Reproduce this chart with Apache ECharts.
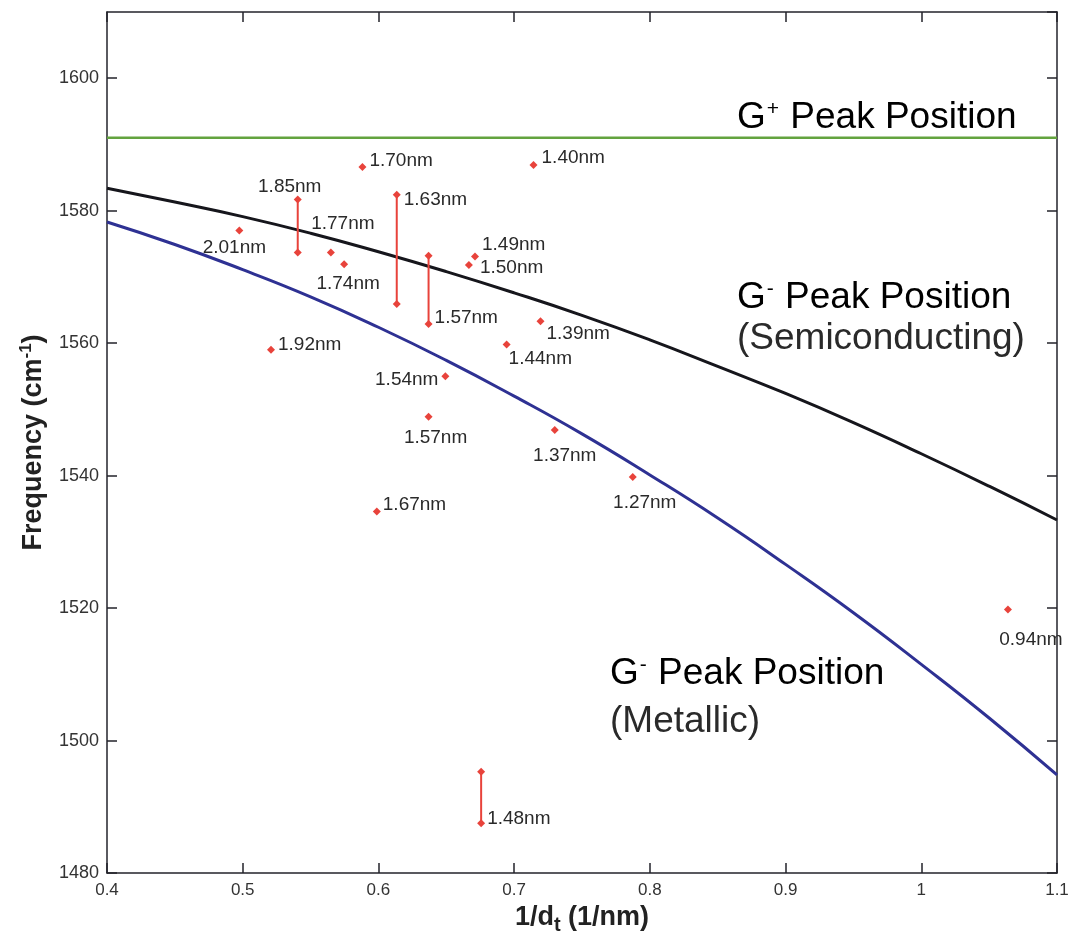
<!DOCTYPE html>
<html>
<head>
<meta charset="utf-8">
<title>G-band peak position vs inverse tube diameter</title>
<script src="https://cdn.jsdelivr.net/npm/echarts@6/dist/echarts.min.js"></script>
<style>
  html, body { margin: 0; padding: 0; background: #ffffff; }
  #chart { width: 1070px; height: 941px; }
</style>
</head>
<body>
<div id="chart"></div>
<script>
// ---- axis ticks ----
const xTicks = [0.4, 0.5, 0.6, 0.7, 0.8, 0.9, 1.0, 1.1];
const yTicks = [1480, 1500, 1520, 1540, 1560, 1580, 1600];
const yTop = 1610;

// ---- peak position curves, sampled along 1/d_t (1/nm) ----
const curveX = [0.40, 0.45, 0.50, 0.55, 0.60, 0.65, 0.70, 0.75, 0.80, 0.85, 0.90, 0.95, 1.00, 1.05, 1.10];
const semiconductingG = [1583.4, 1581.3, 1579.1, 1576.6, 1573.8, 1570.8, 1567.6, 1564.2, 1560.5, 1556.5, 1552.4, 1548.0, 1543.3, 1538.4, 1533.3];
const metallicG = [1578.3, 1574.9, 1571.1, 1567.0, 1562.4, 1557.4, 1552.0, 1546.3, 1540.1, 1533.6, 1526.6, 1519.3, 1511.5, 1503.4, 1494.8];
const gPlusX = [0.40, 1.10];
const gPlusG = [1591.0, 1591.0];

// ---- single measurements: tube diameter (nm) and G- frequency (cm-1) ----
const pointDiameter = [2.01, 1.77, 1.74, 1.70, 1.40, 1.49, 1.50, 1.39, 1.44, 1.92, 1.54, 1.57, 1.67, 1.37, 1.27, 0.94];
const pointG = [1577.0, 1573.7, 1571.9, 1586.6, 1586.9, 1573.1, 1571.8, 1563.3, 1559.8, 1559.0, 1555.0, 1548.9, 1534.6, 1546.9, 1539.8, 1519.8];

// ---- measured ranges: tube diameter (nm), upper and lower G- frequency ----
const rangeDiameter = [1.85, 1.63, 1.57, 1.48];
const rangeHigh = [1581.7, 1582.4, 1573.2, 1495.3];
const rangeLow = [1573.7, 1565.9, 1562.9, 1487.5];

// ---- label placement around each marker: [align, dx, dy] in pixels ----
const pointLabelPlace = [
  ['center', -5, 17], ['center', 12, -29], ['center', 4, 19], ['left', 7, -6],
  ['left', 8, -7], ['left', 7, -12], ['left', 11, 3], ['left', 6, 12],
  ['left', 2, 14], ['left', 7, -5], ['right', -7, 3], ['center', 7, 21],
  ['left', 6, -7], ['center', 10, 26], ['center', 12, 26], ['center', 23, 30]
];
// [end the label sits on, align, dx, dy]
const rangeLabelPlace = [
  ['high', 'center', -8, -13], ['high', 'left', 7, 5],
  ['low', 'left', 6, -6], ['low', 'left', 6, -5]
];

const RED = '#e8433b';
const FONT = 'Liberation Sans, Arial, sans-serif';
const AXIS_COLOR = '#23232b';
const TEXT_COLOR = '#2a2a2a';

const nmLabel = d => d.toFixed(2) + 'nm';

function labelStyle(place) {
  return {
    show: true,
    position: 'inside',
    align: place[0],
    verticalAlign: 'middle',
    offset: [place[1], place[2]],
    formatter: p => p.data.name,
    fontFamily: FONT,
    fontSize: 19,
    color: TEXT_COLOR,
    opacity: 1
  };
}

const pointSeries = {
  type: 'scatter',
  symbol: 'diamond',
  symbolSize: 8,
  itemStyle: { color: RED, opacity: 1 },
  z: 5,
  data: pointDiameter.map((d, i) => ({
    name: nmLabel(d),
    value: [1 / d, pointG[i]],
    label: labelStyle(pointLabelPlace[i])
  }))
};

const rangeSeries = rangeDiameter.map((d, i) => {
  const place = rangeLabelPlace[i];
  const ends = [
    { name: nmLabel(d), value: [1 / d, rangeHigh[i]] },
    { name: nmLabel(d), value: [1 / d, rangeLow[i]] }
  ];
  const withLabel = place[0] === 'high' ? 0 : 1;
  ends[withLabel].label = labelStyle(place.slice(1));
  return {
    type: 'line',
    symbol: 'diamond',
    symbolSize: 8,
    showSymbol: true,
    lineStyle: { color: RED, width: 2 },
    itemStyle: { color: RED },
    label: { show: false },
    z: 5,
    data: ends
  };
});

const curveLine = (xs, ys, color, width) => ({
  type: 'line',
  smooth: true,
  symbol: 'none',
  lineStyle: { color: color, width: width },
  z: 3,
  data: xs.map((x, i) => [x, ys[i]])
});

const tickStyle = { inside: true, length: 10, lineStyle: { color: AXIS_COLOR, width: 1.5 } };
const lineStyleAxis = { onZero: false, lineStyle: { color: AXIS_COLOR, width: 1.5 } };

const xRange = { min: xTicks[0], max: xTicks[xTicks.length - 1], interval: 0.1 };
const yRange = { min: yTicks[0], max: yTop, interval: 20 };

function annotation(x, y, sign, rest) {
  return {
    type: 'text', left: x, top: y, z: 10,
    style: {
      text: '{g|G}{s|' + sign + '}{g|' + rest + '}',
      rich: {
        g: { fontFamily: FONT, fontSize: 37, color: TEXT_COLOR },
        s: { fontFamily: FONT, fontSize: 21, color: TEXT_COLOR, padding: [0, 1, 16, 1] }
      }
    }
  };
}
function plainText(x, y, text) {
  return {
    type: 'text', left: x, top: y, z: 10,
    style: { text: text, fontFamily: FONT, fontSize: 37, fill: TEXT_COLOR }
  };
}

const option = {
  backgroundColor: '#ffffff',
  animation: false,
  grid: { left: 107, right: 13, top: 12, bottom: 68, containLabel: false, outerBoundsMode: 'none' },
  xAxis: [
    Object.assign({
      type: 'value',
      position: 'bottom',
      axisLine: lineStyleAxis,
      axisTick: tickStyle,
      splitLine: { show: false },
      axisLabel: { fontFamily: FONT, fontSize: 17, color: '#333', margin: 9 },
      name: '{b|1/d}{sub|t}{b| (1/nm)}',
      nameLocation: 'middle',
      nameGap: 22,
      nameTextStyle: {
        rich: {
          b: { fontFamily: FONT, fontSize: 27, fontWeight: 'bold', color: '#222' },
          sub: { fontFamily: FONT, fontSize: 20, fontWeight: 'bold', color: '#222', padding: [16, 0, 0, 0] }
        }
      }
    }, xRange),
    Object.assign({
      type: 'value',
      position: 'top',
      axisLine: lineStyleAxis,
      axisTick: tickStyle,
      splitLine: { show: false },
      axisLabel: { show: false }
    }, xRange)
  ],
  yAxis: [
    Object.assign({
      type: 'value',
      position: 'left',
      axisLine: lineStyleAxis,
      axisTick: tickStyle,
      splitLine: { show: false },
      axisLabel: {
        fontFamily: FONT, fontSize: 18, color: '#333', margin: 8, showMaxLabel: false,
        formatter: v => String(v)
      },
      name: '{b|Frequency (cm}{sup|-1}{b|)}',
      nameLocation: 'middle',
      nameRotate: 90,
      nameGap: 58,
      nameTextStyle: {
        rich: {
          b: { fontFamily: FONT, fontSize: 27, fontWeight: 'bold', color: '#222' },
          sup: { fontFamily: FONT, fontSize: 17, fontWeight: 'bold', color: '#222', padding: [0, 0, 14, 0] }
        }
      }
    }, yRange),
    Object.assign({
      type: 'value',
      position: 'right',
      axisLine: lineStyleAxis,
      axisTick: tickStyle,
      splitLine: { show: false },
      axisLabel: { show: false }
    }, yRange)
  ],
  series: [
    curveLine(gPlusX, gPlusG, '#63a33f', 2.5),
    curveLine(curveX, semiconductingG, '#16161c', 3),
    curveLine(curveX, metallicG, '#2e3193', 3),
    pointSeries
  ].concat(rangeSeries),
  graphic: [
    annotation(737, 99, '+', ' Peak Position'),
    annotation(737, 279, '-', ' Peak Position'),
    plainText(737, 320, '(Semiconducting)'),
    annotation(610, 655, '-', ' Peak Position'),
    plainText(610, 703, '(Metallic)')
  ]
};

const chart = echarts.init(document.getElementById('chart'), null, { renderer: 'canvas' });
chart.setOption(option);
</script>
</body>
</html>
